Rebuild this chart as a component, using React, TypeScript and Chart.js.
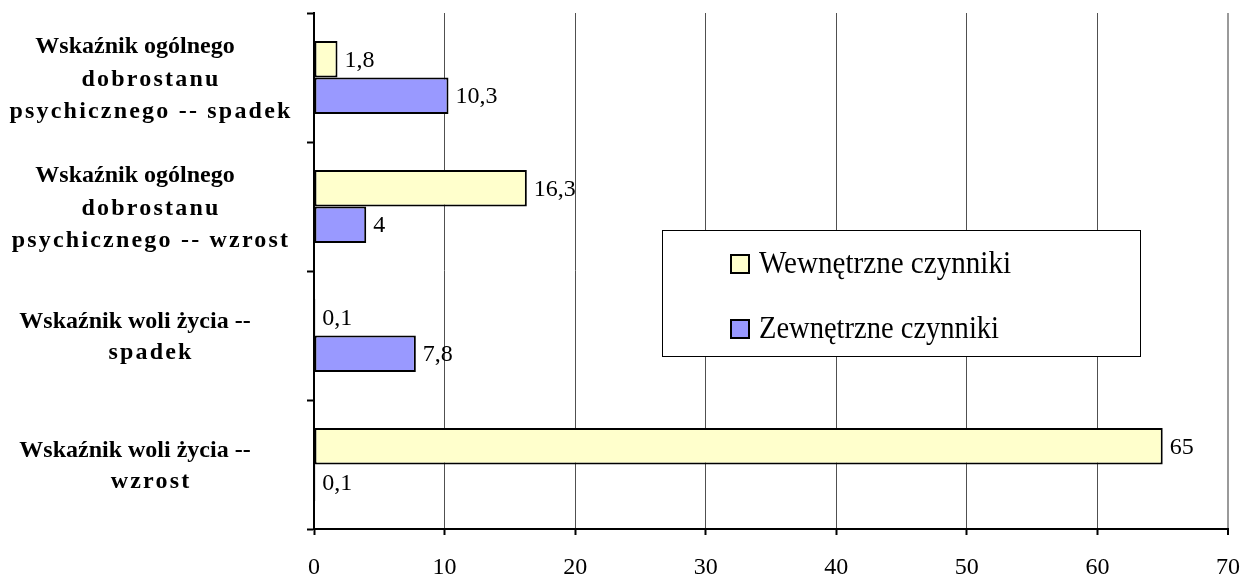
import React, { useEffect, useRef } from "react";
import { Chart, registerables } from "chart.js";

Chart.register(...registerables);

const categoryLines: string[][] = [
  ["Wskaźnik ogólnego", "dobrostanu", "psychicznego -- spadek"],
  ["Wskaźnik ogólnego", "dobrostanu", "psychicznego -- wzrost"],
  ["Wskaźnik woli życia --", "spadek"],
  ["Wskaźnik woli życia --", "wzrost"],
];
const seriesNames = ["Wewnętrzne czynniki", "Zewnętrzne czynniki"];
const internalValues = [1.8, 16.3, 0.1, 65];
const externalValues = [10.3, 4, 7.8, 0.1];
const xMin = 0;
const xMax = 70;
const xStep = 10;

const SERIF = "'Liberation Serif', 'Times New Roman', serif";
const FILLS = ["#FFFFCC", "#9999FF"];

const fmt = (v: number) => String(v).replace(".", ",");

const valueLabels = {
  id: "valueLabels",
  afterDatasetsDraw(chart: any) {
    const ctx = chart.ctx;
    ctx.save();
    ctx.font = `24px ${SERIF}`;
    ctx.fillStyle = "#000";
    ctx.textAlign = "left";
    ctx.textBaseline = "middle";
    chart.data.datasets.forEach((ds: any, di: number) => {
      const meta = chart.getDatasetMeta(di);
      meta.data.forEach((el: any, i: number) => {
        ctx.fillText(fmt(ds.data[i]), el.x + 7, el.y + 1);
      });
    });
    ctx.restore();
  },
};

const yLabels = {
  id: "yLabels",
  afterDraw(chart: any) {
    const ctx = chart.ctx;
    const ys = chart.scales.y;
    ctx.save();
    ctx.font = `bold 24px ${SERIF}`;
    ctx.fillStyle = "#000";
    ctx.textAlign = "center";
    ctx.textBaseline = "middle";
    categoryLines.forEach((lines, i) => {
      const yc = ys.getPixelForTick(i) + 2;
      const lh = lines.length > 2 ? 32.5 : 30.5;
      const start = yc - ((lines.length - 1) / 2) * lh;
      lines.forEach((line, j) => {
        const spaced = j > 0;
        (ctx as any).letterSpacing = spaced ? "2.2px" : "0px";
        ctx.fillText(line, spaced ? 151 : 135, start + j * lh);
      });
    });
    (ctx as any).letterSpacing = "0px";
    ctx.restore();
  },
};

const boxLegend = {
  id: "boxLegend",
  afterDraw(chart: any) {
    const ctx = chart.ctx;
    const bx = 662, by = 230, bw = 478, bh = 126;
    ctx.save();
    ctx.fillStyle = "#fff";
    ctx.fillRect(bx, by, bw, bh);
    ctx.strokeStyle = "#000";
    ctx.lineWidth = 1;
    ctx.strokeRect(bx + 0.5, by + 0.5, bw, bh);
    const rows = [264, 329];
    const targetWidths = [252, 240];
    chart.data.datasets.forEach((ds: any, i: number) => {
      const cy = rows[i];
      ctx.fillStyle = ds.backgroundColor;
      ctx.fillRect(731, cy - 9, 18, 18);
      ctx.lineWidth = 2;
      ctx.strokeStyle = "#000";
      ctx.strokeRect(731, cy - 9, 18, 18);
      ctx.fillStyle = "#000";
      ctx.font = `32px ${SERIF}`;
      ctx.textAlign = "left";
      ctx.textBaseline = "middle";
      const w = ctx.measureText(ds.label).width;
      const sx = targetWidths[i] / w;
      ctx.save();
      ctx.translate(759, cy + 1);
      ctx.scale(sx, 1);
      ctx.fillText(ds.label, 0, 0);
      ctx.restore();
    });
    ctx.restore();
  },
};

export default function App() {
  const ref = useRef<HTMLCanvasElement | null>(null);
  useEffect(() => {
    if (!ref.current) return;
    const chart = new Chart(ref.current, {
      type: "bar",
      data: {
        labels: categoryLines.map((l) => l.join(" ")),
        datasets: [
          {
            label: seriesNames[0],
            data: internalValues,
            backgroundColor: FILLS[0],
            borderColor: "#000",
            borderWidth: 2,
            borderSkipped: false,
            categoryPercentage: 0.566,
            barPercentage: 1,
          },
          {
            label: seriesNames[1],
            data: externalValues,
            backgroundColor: FILLS[1],
            borderColor: "#000",
            borderWidth: 2,
            borderSkipped: false,
            categoryPercentage: 0.566,
            barPercentage: 1,
          },
        ],
      },
      options: {
        indexAxis: "y",
        animation: false,
        responsive: false,
        devicePixelRatio: 1,
        layout: { padding: { top: 13, right: 14, left: 0, bottom: 0 } },
        plugins: {
          legend: { display: false },
          tooltip: { enabled: false },
        },
        scales: {
          x: {
            min: xMin,
            max: xMax,
            ticks: {
              stepSize: xStep,
              color: "#000",
              font: { family: SERIF, size: 24 },
              padding: 18,
              maxRotation: 0,
            },
            grid: {
              color: (c: any) => (c.tick && c.tick.value === xMax ? "#9a9a9a" : "#505050"),
              lineWidth: (c: any) => (c.tick && c.tick.value === xMax ? 2 : 1),
              tickColor: "#000",
              tickWidth: 2,
              tickLength: 6,
            },
            border: { color: "#000", width: 2 },
            afterFit: (s: any) => {
              s.height = 49;
              s.paddingLeft = 0;
              s.paddingRight = 0;
            },
          },
          y: {
            ticks: { display: false },
            grid: {
              drawOnChartArea: false,
              drawTicks: true,
              tickLength: 7,
              tickColor: "#000",
              tickWidth: 2,
              offset: true,
            },
            border: { color: "#000", width: 2 },
            afterFit: (s: any) => {
              s.width = 314;
              s.paddingTop = 0;
              s.paddingBottom = 0;
            },
          },
        },
      },
      plugins: [valueLabels, yLabels, boxLegend],
    } as any);
    return () => chart.destroy();
  }, []);
  return (
    <div style={{ position: "fixed", left: 0, top: 0, width: 1242, height: 578, background: "#fff" }}>
      <canvas ref={ref} width={1242} height={578} style={{ display: "block", width: 1242, height: 578 }} />
    </div>
  );
}
